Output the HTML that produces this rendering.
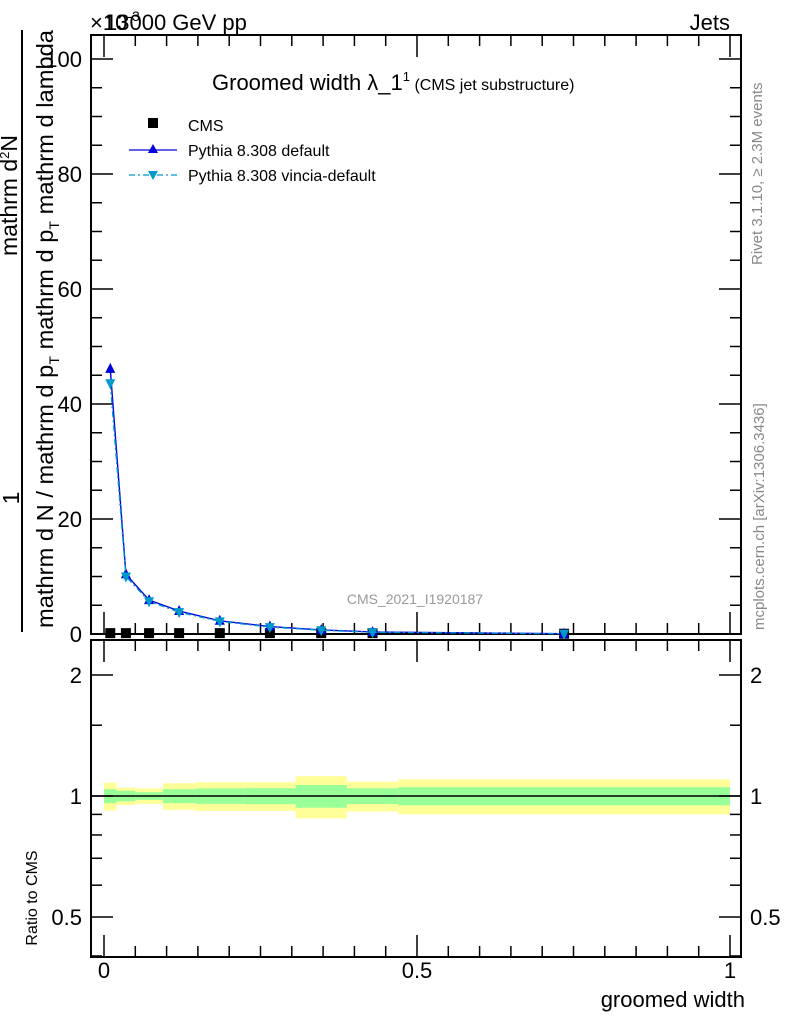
<!DOCTYPE html>
<html><head><meta charset="utf-8"><style>
body{margin:0;background:#fff;}
svg{display:block;font-family:"Liberation Sans",sans-serif;}
</style></head><body>
<svg id="chart" width="786" height="1024" viewBox="0 0 786 1024">
<g id="bands"></g>
<g id="frames"></g>
<g id="marks"></g>
<g fill="#000">
<text x="90" y="30" font-size="22">×10<tspan font-size="14" dy="-9">-3</tspan></text>
<text x="105" y="30" font-size="22">13000 GeV pp</text>
<text x="730" y="30" font-size="22" text-anchor="end">Jets</text>
<text x="212" y="90" font-size="22">Groomed width λ_1<tspan font-size="13" dy="-9">1</tspan><tspan font-size="16" dy="9"> (CMS jet substructure)</tspan></text>
<text x="415" y="604" font-size="14" fill="#999" text-anchor="middle">CMS_2021_I1920187</text>
<text x="745" y="1007" font-size="22" text-anchor="end">groomed width</text>
<text transform="translate(37,898) rotate(-90)" font-size="16" text-anchor="middle">Ratio to CMS</text>
<text transform="translate(762,265) rotate(-90)" font-size="15" fill="#888">Rivet 3.1.10, ≥ 2.3M events</text>
<text transform="translate(764,630) rotate(-90)" font-size="15" fill="#888">mcplots.cern.ch [arXiv:1306.3436]</text>
<line x1="22" y1="30" x2="22" y2="632" stroke="#000" stroke-width="2"/>
<text transform="translate(19,498) rotate(-90)" font-size="23" text-anchor="middle">1</text>
<text transform="translate(17,256) rotate(-90)" font-size="23">mathrm d<tspan font-size="13" dy="-8">2</tspan><tspan dy="8">N</tspan></text>
<text transform="translate(53,628) rotate(-90)" font-size="23.5" textLength="598" lengthAdjust="spacingAndGlyphs">mathrm d N / mathrm d p<tspan font-size="14" dy="6">T</tspan><tspan dy="-6"> mathrm d p</tspan><tspan font-size="14" dy="6">T</tspan><tspan dy="-6"> mathrm d lambda</tspan></text>
</g>
<g>
<rect x="148" y="118" width="10" height="10" fill="#000"/>
<text x="188" y="131" font-size="16">CMS</text>
<line x1="129" y1="150" x2="177" y2="150" stroke="#0000dd" stroke-width="1.3"/>
<path d="M153,144 L158,153 L148,153Z" fill="#0000dd"/>
<text x="188" y="156" font-size="16">Pythia 8.308 default</text>
<line x1="129" y1="175" x2="177" y2="175" stroke="#0099cc" stroke-width="1.3" stroke-dasharray="6,3,2,3"/>
<path d="M148,171 L158,171 L153,180Z" fill="#0099cc"/>
<text x="188" y="181" font-size="16">Pythia 8.308 vincia-default</text>
</g>
</svg>
<script>
const binEdges=[0,0.02,0.05,0.094,0.146,0.224,0.306,0.388,0.47,1.0];
const binCenters=[0.01,0.035,0.072,0.12,0.185,0.265,0.347,0.429,0.735];
const cmsValues=[0.15,0.15,0.15,0.15,0.15,0.15,0.15,0.15,0.05];
const defaultValues=[46.1,10.4,5.9,4.0,2.3,1.3,0.7,0.35,0.05];
const vinciaValues=[43.6,10.0,5.7,3.8,2.2,1.2,0.65,0.3,0.05];
const statErr=[0.04,0.03,0.022,0.04,0.044,0.046,0.065,0.045,0.052];
const totErr=[0.08,0.05,0.044,0.076,0.082,0.082,0.12,0.085,0.1];
const yTicks=[0,20,40,60,80,100];
const rTicks=[0.5,1,2];
const xTicks=[0,0.5,1];
const NS='http://www.w3.org/2000/svg';
const L=91,R=741,T=35,B=634,RT=640,RB=957;
const sx=v=>104+v*626;
const sy=v=>634-v*5.75;
const ry=v=>796-Math.log(v)*174.6;
function mk(p,tag,at){const e=document.createElementNS(NS,tag);for(const k in at)e.setAttribute(k,at[k]);p.appendChild(e);return e;}
const bands=document.getElementById('bands'),frames=document.getElementById('frames'),marks=document.getElementById('marks');
for(let i=0;i<binCenters.length;i++){
 const x0=sx(binEdges[i]),x1=sx(binEdges[i+1]);
 const y=mk(bands,'rect',{x:x0,y:ry(1+totErr[i]),width:x1-x0,height:ry(1-totErr[i])-ry(1+totErr[i]),fill:'#ffff99'});
 
 
 const g=mk(bands,'rect',{x:x0,y:ry(1+statErr[i]),width:x1-x0,height:ry(1-statErr[i])-ry(1+statErr[i]),fill:'#99ff99'});
 
 
}
const ln=mk(bands,'line',{x1:L,x2:R,y1:ry(1),y2:ry(1),stroke:'#000','stroke-width':1.5});


[[T,B],[RT,RB]].forEach(([a,b])=>{const f=mk(frames,'rect',{x:L,y:a,width:R-L,height:b-a,fill:'none',stroke:'#000','stroke-width':2});
 
 });
function tick(x1,y1,x2,y2){const t=mk(frames,'line',{x1,y1,x2,y2,stroke:'#000','stroke-width':1.5});
 
 }
for(let v=0;v<=104;v+=5){const y=sy(v);const len=v%20===0?22:11;tick(L,y,L+len,y);tick(R,y,R-len,y);}
yTicks.forEach(v=>{const t=mk(frames,'text',{x:82,y:sy(v)+8,'font-size':22,'text-anchor':'end'});t.textContent=v;
 
 });
for(let v=0;v<=1.0001;v+=0.05){const x=sx(v);const big=Math.abs(v*10-Math.round(v*10))<1e-6&&Math.round(v*10)%5===0;const len=big?22:11;
 tick(x,B,x,B-len);tick(x,T,x,T+len);tick(x,RB,x,RB-len);tick(x,RT,x,RT+len);}
[0.4,0.5,0.6,0.7,0.8,0.9,1,1.5,2].forEach(v=>{const y=ry(v);const big=rTicks.includes(v);const len=big?22:11;tick(L,y,L+len,y);tick(R,y,R-len,y);});
rTicks.forEach(v=>{[[82,'end'],[750,'start']].forEach(([x,a])=>{const t=mk(frames,'text',{x,y:ry(v)+8,'font-size':22,'text-anchor':a});t.textContent=v;
 
 });});
xTicks.forEach(v=>{const t=mk(frames,'text',{x:sx(v),y:978,'font-size':22,'text-anchor':'middle'});t.textContent=v;
 
 });
function series(vals,color,dash,up,name){
 const pts=binCenters.map((c,i)=>sx(c)+','+sy(vals[i])).join(' ');
 const pl=mk(marks,'polyline',{points:pts,fill:'none',stroke:color,'stroke-width':1.4,'stroke-dasharray':dash});
 
 
 binCenters.forEach((c,i)=>{const x=sx(c),y=sy(vals[i]);
  const d=up?`M${x},${y-6} L${x+5},${y+4} L${x-5},${y+4}Z`:`M${x-5},${y-4} L${x+5},${y-4} L${x},${y+6}Z`;
  const p=mk(marks,'path',{d,fill:color});
  
  });
}
binCenters.forEach((c,i)=>{const r=mk(marks,'rect',{x:sx(c)-5,y:sy(cmsValues[i])-5,width:10,height:10,fill:'#000'});
 
 });
series(defaultValues,'#0000dd','none',true,'pythia-default');
series(vinciaValues,'#0099cc','6,3,2,3',false,'pythia-vincia');
</script>
</body></html>
